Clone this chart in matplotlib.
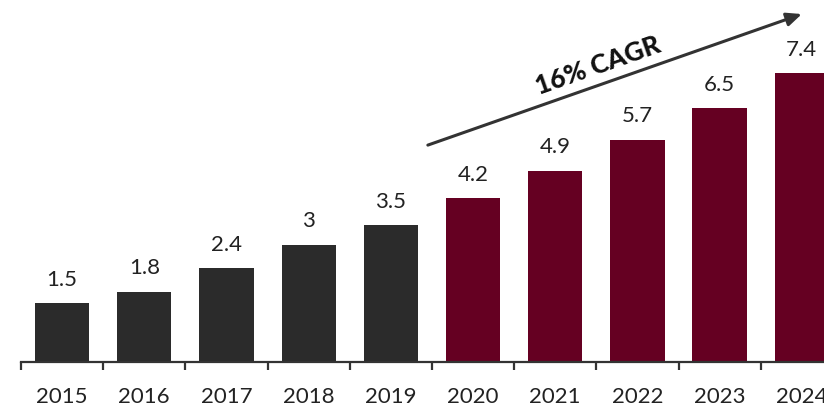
import numpy as np
import matplotlib.pyplot as plt

years = ['2015', '2016', '2017', '2018', '2019', '2020', '2021', '2022', '2023', '2024']
values = [1.5, 1.8, 2.4, 3, 3.5, 4.2, 4.9, 5.7, 6.5, 7.4]
labels = ['1.5', '1.8', '2.4', '3', '3.5', '4.2', '4.9', '5.7', '6.5', '7.4']
n_hist = 5

dark = '#2b2b2b'
maroon = '#650022'
colors = [dark] * n_hist + [maroon] * (len(years) - n_hist)

plt.rcParams['font.family'] = ['Lato', 'DejaVu Sans']

fig = plt.figure(figsize=(8.24, 4.04), dpi=100)
ax = fig.add_axes([21 / 824, 42 / 404, 803 / 824, 362 / 404])

x = np.arange(len(years))
bars = ax.bar(x, values, width=0.66, color=colors, zorder=2)

for xi, v, lab in zip(x, values, labels):
    ax.text(xi, v + 0.35, lab, ha='center', va='bottom', fontsize=16, color='#222222')

for s in ['top', 'right', 'left']:
    ax.spines[s].set_visible(False)
ax.spines['bottom'].set_linewidth(1.6)
ax.spines['bottom'].set_color('#333333')
ax.set_yticks([])

ax.set_xticks(x)
ax.set_xticklabels(years, fontsize=16, color='#222222')
ax.tick_params(axis='x', which='major', length=0, pad=18)
ax.set_xticks(np.arange(-0.5, len(years), 1.0), minor=True)
ax.tick_params(axis='x', which='minor', length=5.5, width=1.6, color='#333333')

# limits after ticks, set_xticks widens the view otherwise
ax.set_xlim(-0.5, 9.27)
ax.set_ylim(0, 9.28)

# CAGR arrow
ax.annotate('', xy=(9.0, 8.92), xytext=(4.45, 5.56), annotation_clip=False,
            arrowprops=dict(arrowstyle='-|>,head_length=0.9,head_width=0.4',
                            color='#333333', lw=2.2, shrinkA=0, shrinkB=0))
ax.text(6.52, 7.6, '16% CAGR', rotation=19.4, ha='center', va='center',
        fontsize=19, fontweight='black', color='#111111', rotation_mode='anchor')

fig.savefig('out.png', dpi=100)
